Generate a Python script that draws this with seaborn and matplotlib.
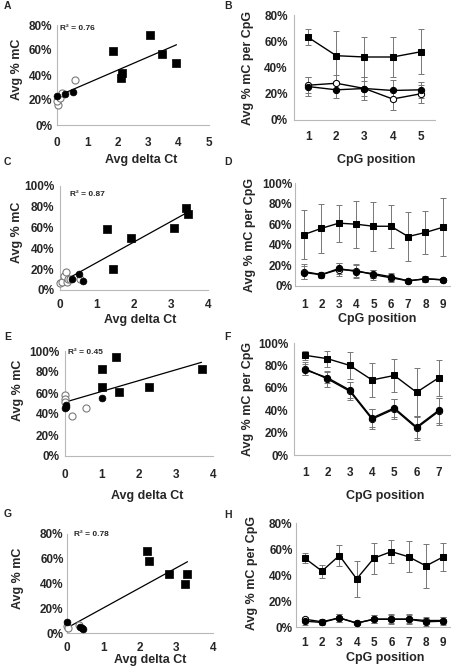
import matplotlib
matplotlib.use("Agg")
import numpy as np
import matplotlib.pyplot as plt
import seaborn as sns
from matplotlib.ticker import PercentFormatter, MultipleLocator

#%% values (avg delta Ct, avg % mC in percent)

# A
a_sq_ct = [1.83, 2.09, 2.15, 3.06, 3.46, 3.93]
a_sq_mc = [59, 38, 42, 72, 57, 50]
a_fc_ct = [0.0, 0.25, 0.52]
a_fc_mc = [23, 25, 26.5]
a_oc_ct = [0.02, 0.0, 0.09, 0.16, 0.58]
a_oc_mc = [16, 19, 22, 26, 36]

# B
b_pos = [1, 2, 3, 4, 5]
b_sq = [63, 49, 48, 48, 52]
b_sq_err = [6, 19, 15, 15, 17]
b_fc = [25.5, 23, 24, 22.5, 23]
b_fc_err = [7, 6, 9, 8, 6]
b_oc = [26.5, 28, 24, 16, 20]
b_oc_err = [6, 6, 6, 8, 7]

# C
c_sq_ct = [1.26, 1.44, 1.91, 3.08, 3.40, 3.46]
c_sq_mc = [59, 20, 50, 60, 79, 73]
c_fc_ct = [0.33, 0.5, 0.63]
c_fc_mc = [11, 15, 8.5]
c_oc_ct = [0.0, 0.05, 0.1, 0.16, 0.2, 0.22, 0.28, 0.55]
c_oc_mc = [7, 8, 13, 17, 8, 11, 11, 11]

# D
d_pos = [1, 2, 3, 4, 5, 6, 7, 8, 9]
d_sq = [50, 56, 61, 60, 58, 58, 48, 52, 57]
d_sq_err = [24, 24, 18, 23, 24, 21, 24, 21, 28]
d_fc = [13, 11, 17, 14, 12, 9, 5, 7, 6]
d_fc_err = [6, 2, 5, 6, 4, 4, 2, 3, 2]
d_oc = [14, 11, 16, 15, 11, 8, 5, 7, 6]
d_oc_err = [7, 3, 6, 6, 5, 4, 2, 3, 2]

# E
e_sq_ct = [0.99, 0.99, 1.38, 1.46, 2.27, 3.69]
e_sq_mc = [83, 66, 94, 61, 66, 83]
e_fc_ct = [0.0, 0.04, 0.02, 0.99]
e_fc_mc = [46, 47, 49, 55.5]
e_oc_ct = [0.0, 0.0, 0.01, 0.18, 0.56]
e_oc_mc = [58, 54, 51.5, 38.5, 46]

# F
f_pos = [1, 2, 3, 4, 5, 6, 7]
f_sq = [89, 86, 80, 67, 71, 56, 69]
f_sq_err = [4, 7, 12, 15, 15, 22, 16]
f_fc = [76, 69, 58, 33, 42, 25, 40]
f_fc_err = [5, 5, 7, 8, 8, 10, 11]
f_oc = [77, 68, 57, 32, 41, 24, 39]
f_oc_err = [6, 7, 8, 9, 9, 11, 12]

# G
g_sq_ct = [2.2, 2.26, 2.79, 3.22, 3.3]
g_sq_mc = [66, 58, 48, 40, 48]
g_fc_ct = [0.0, 0.35, 0.42, 0.45]
g_fc_mc = [9, 5, 4, 3.5]
g_oc_ct = [0.0, 0.03, 0.33]
g_oc_mc = [6, 4, 6.5]

# H
h_pos = [1, 2, 3, 4, 5, 6, 7, 8, 9]
h_sq = [53, 43, 55, 37, 53, 58, 54, 47, 54]
h_sq_err = [4, 5, 8, 14, 12, 9, 12, 17, 11]
h_fc = [4.5, 3.5, 7, 3, 6, 6, 6, 4, 4.5]
h_fc_err = [3, 2, 3, 1, 3, 4, 4, 3, 3]
h_oc = [6, 4, 7, 3, 6, 6, 6, 5, 5]
h_oc_err = [2, 2, 3, 1, 3, 3, 3, 3, 3]

r2_labels = ['R² = 0.76', 'R² = 0.87', 'R² = 0.45', 'R² = 0.78']

#%% style

sns.set_style('white')
plt.rcParams['font.family'] = ['Liberation Sans', 'DejaVu Sans']
plt.rcParams['font.weight'] = 'bold'
plt.rcParams['axes.labelweight'] = 'bold'

W, H = 452, 667
GREY = '#b8b8b8'
fig = plt.figure(figsize=(W / 100, H / 100), dpi=100)


def px_axes(l, t, r, b):
    return fig.add_axes([l / W, 1 - b / H, (r - l) / W, (b - t) / H])


def base_style(ax, ymax, ypad):
    for s in ['top', 'right']:
        ax.spines[s].set_visible(False)
    for s in ['left', 'bottom']:
        ax.spines[s].set_color(GREY)
        ax.spines[s].set_linewidth(0.8)
    ax.set_ylim(0, ymax)
    ax.yaxis.set_major_locator(MultipleLocator(20))
    ax.yaxis.set_major_formatter(PercentFormatter(100, decimals=0))
    ax.tick_params(axis='y', length=2, color=GREY, pad=ypad, labelsize=8.5)


def labels(ax, xl, yl, xc, yc):
    ax.set_xlabel(xl, fontsize=9, va='center')
    ax.set_ylabel(yl, fontsize=9, va='center')
    ax.xaxis.set_label_coords(xc[0] / W, 1 - xc[1] / H, transform=fig.transFigure)
    ax.yaxis.set_label_coords(yc[0] / W, 1 - yc[1] / H, transform=fig.transFigure)


def scatter_panel(ax, sq_ct, sq_mc, fc_ct, fc_mc, oc_ct, oc_mc, xmax, ymax, xpad, ypad):
    all_ct = sq_ct + fc_ct + oc_ct
    all_mc = sq_mc + fc_mc + oc_mc
    sns.regplot(x=all_ct, y=all_mc, scatter=False, ci=None, truncate=True,
                color='black', line_kws={'lw': 0.9}, ax=ax)
    sns.scatterplot(x=oc_ct, y=oc_mc, marker='o', s=26, color='white',
                    edgecolor='#7a7a7a', linewidth=0.8, ax=ax, clip_on=False, zorder=3)
    sns.scatterplot(x=fc_ct, y=fc_mc, marker='o', s=24, color='black',
                    edgecolor='black', linewidth=0.5, ax=ax, clip_on=False, zorder=4)
    sns.scatterplot(x=sq_ct, y=sq_mc, marker='s', s=34, color='black',
                    edgecolor='black', linewidth=0.5, ax=ax, clip_on=False, zorder=4)
    base_style(ax, ymax, ypad)
    ax.set_xlim(0, xmax)
    ax.set_xticks(range(xmax + 1))
    ax.tick_params(axis='x', length=3, color=GREY, pad=xpad, labelsize=8.5)


def line_panel(ax, pos, sq, sq_err, fc, fc_err, oc, oc_err, ymax, xpad, ypad):
    for vals, err in [(oc, oc_err), (fc, fc_err), (sq, sq_err)]:
        ax.errorbar(pos, vals, yerr=err, fmt='none', ecolor='#767676',
                    elinewidth=0.7, capsize=2, capthick=0.7, zorder=1)
    # open circles first, filled ones drawn over them
    sns.lineplot(x=pos, y=oc, marker='o', markersize=4.5, color='black',
                 mfc='white', mec='black', lw=1, ax=ax, zorder=3)
    sns.lineplot(x=pos, y=fc, marker='o', markersize=4.5, color='black',
                 mec='black', lw=1, ax=ax, zorder=3)
    sns.lineplot(x=pos, y=sq, marker='s', markersize=5, color='black',
                 mec='black', lw=1, ax=ax, zorder=4)
    base_style(ax, ymax, ypad)
    n = len(pos)
    ax.set_xlim(0.5, n + 0.5)
    ax.set_xticks(pos)
    ax.set_xticks(np.arange(0.5, n + 1), minor=True)
    ax.tick_params(axis='x', which='major', length=0, pad=xpad, labelsize=8.5)
    ax.tick_params(axis='x', which='minor', length=3, color=GREY)


#%% panels

ax_a = px_axes(57, 25, 209, 125)
scatter_panel(ax_a, a_sq_ct, a_sq_mc, a_fc_ct, a_fc_mc, a_oc_ct, a_oc_mc, 5, 80, 5.8, 1.5)
labels(ax_a, 'Avg delta Ct', 'Avg % mC', (141, 160), (17, 69))

ax_b = px_axes(294, 15, 435, 120)
line_panel(ax_b, b_pos, b_sq, b_sq_err, b_fc, b_fc_err, b_oc, b_oc_err, 80, 8, 2.5)
labels(ax_b, 'CpG position', 'Avg % mC per CpG', (376, 160), (248, 68))

ax_c = px_axes(60, 186, 208, 290)
scatter_panel(ax_c, c_sq_ct, c_sq_mc, c_fc_ct, c_fc_mc, c_oc_ct, c_oc_mc, 4, 100, 3.6, 2)
labels(ax_c, 'Avg delta Ct', 'Avg % mC', (140, 320), (17, 232))

ax_d = px_axes(295.5, 183, 451.5, 286)
line_panel(ax_d, d_pos, d_sq, d_sq_err, d_fc, d_fc_err, d_oc, d_oc_err, 100, 9.4, 0.5)
labels(ax_d, 'CpG position', 'Avg % mC per CpG', (377, 319), (250, 235))

ax_e = px_axes(65, 351, 213, 456)
scatter_panel(ax_e, e_sq_ct, e_sq_mc, e_fc_ct, e_fc_mc, e_oc_ct, e_oc_mc, 4, 100, 6.5, 2)
labels(ax_e, 'Avg delta Ct', 'Avg % mC', (147, 496), (18, 390))

ax_f = px_axes(294, 343, 450, 455)
line_panel(ax_f, f_pos, f_sq, f_sq_err, f_fc, f_fc_err, f_oc, f_oc_err, 100, 8.6, 2)
labels(ax_f, 'CpG position', 'Avg % mC per CpG', (385, 496), (248, 399))

ax_g = px_axes(67, 534, 213, 633)
scatter_panel(ax_g, g_sq_ct, g_sq_mc, g_fc_ct, g_fc_mc, g_oc_ct, g_oc_mc, 4, 80, 3.6, 0.5)
labels(ax_g, 'Avg delta Ct', 'Avg % mC', (150, 660), (18, 578))

ax_h = px_axes(296, 523, 452, 627)
line_panel(ax_h, h_pos, h_sq, h_sq_err, h_fc, h_fc_err, h_oc, h_oc_err, 80, 7.2, 0.5)
labels(ax_h, 'CpG position', 'Avg % mC per CpG', (385, 658), (252, 573))

# R squared notes
for (x, y), txt in zip([(60, 28), (70, 195), (68, 352), (74, 535)], r2_labels):
    fig.text(x / W, 1 - y / H, txt, fontsize=6, ha='left', va='center')

# panel letters
for (x, y), letter in zip([(4, 6), (224, 6), (4, 162), (224, 162),
                           (4, 337), (224, 337), (4, 514), (224, 515)], 'ABCDEFGH'):
    fig.text(x / W, 1 - y / H, letter, fontsize=7.5, ha='left', va='center')

fig.savefig('out.png', dpi=100)
